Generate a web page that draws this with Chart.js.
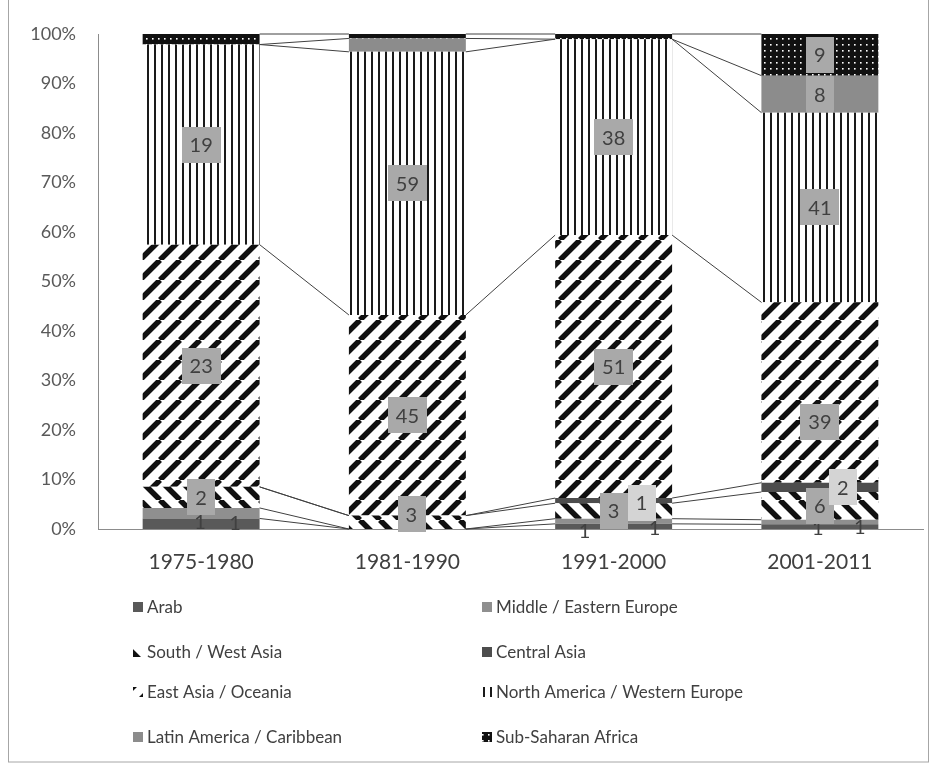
<!DOCTYPE html>
<html lang="en">
<head>
<meta charset="UTF-8" />
<title>Regions by period</title>
<style>
  body { margin: 0; background: #fff; }
  #wrap { width: 934px; height: 765px; }
</style>
</head>
<body>
<div id="wrap"><canvas id="chart" width="934" height="765"></canvas></div>
<script src="https://cdn.jsdelivr.net/npm/chart.js"></script>
<script>
const periods = ['1975-1980', '1981-1990', '1991-2000', '2001-2011'];
const regionNames = ['Arab', 'Middle / Eastern Europe', 'South / West Asia', 'Central Asia',
  'East Asia / Oceania', 'North America / Western Europe', 'Latin America / Caribbean', 'Sub-Saharan Africa'];

// counts per period
const arab = [1, 0, 1, 1];
const middleEastEurope = [1, 0, 1, 1];
const southWestAsia = [2, 3, 3, 6];
const centralAsia = [0, 0, 1, 2];
const eastAsiaOceania = [23, 45, 51, 39];
const northAmericaWestEurope = [19, 59, 38, 41];
const latinAmerica = [0, 3, 0, 8];
const subSaharanAfrica = [1, 1, 1, 9];

const yTicks = [0, 10, 20, 30, 40, 50, 60, 70, 80, 90, 100];

const counts = [arab, middleEastEurope, southWestAsia, centralAsia,
  eastAsiaOceania, northAmericaWestEurope, latinAmerica, subSaharanAfrica];
const totals = periods.map((_, j) => counts.reduce((s, arr) => s + arr[j], 0));

const FONT = 'Lato, "Liberation Sans", sans-serif';
const canvas = document.getElementById('chart');
const ctx = canvas.getContext('2d');

function pattern(w, h, draw) {
  const c = document.createElement('canvas');
  c.width = w; c.height = h;
  const g = c.getContext('2d');
  draw(g, w, h);
  return ctx.createPattern(c, 'repeat');
}

function diagonal(up) {
  return pattern(20, 20, (g, s) => {
    g.fillStyle = '#fff';
    g.fillRect(0, 0, s, s);
    g.strokeStyle = '#111';
    g.lineWidth = 5.5;
    g.beginPath();
    for (let k = -1; k <= 1; k++) {
      if (up) { g.moveTo(k * s, s); g.lineTo(k * s + s, 0); }
      else { g.moveTo(k * s, 0); g.lineTo(k * s + s, s); }
    }
    g.stroke();
  });
}

const fills = [
  '#595959',
  '#8f8f8f',
  diagonal(false),
  '#4d4d4d',
  diagonal(true),
  pattern(7, 7, (g) => {
    g.fillStyle = '#fff'; g.fillRect(0, 0, 7, 7);
    g.fillStyle = '#1a1a1a'; g.fillRect(0, 0, 2, 7);
  }),
  '#8c8c8c',
  pattern(6, 6, (g) => {
    g.fillStyle = '#111'; g.fillRect(0, 0, 6, 6);
    g.fillStyle = '#fff'; g.fillRect(2, 2, 1.6, 1.6);
  })
];

// label look per dataset: plain text, light box or dark box
const labelStyle = ['plain', 'plain', 'dark', 'light', 'dark', 'dark', 'dark', 'dark'];
const hiddenLabels = ['7-0', '6-1', '7-1', '7-2'];
const labelShift = {
  '0-0': [-1, -2], '1-0': [34, 9],
  '2-1': [4, -8],
  '0-2': [-29, 4], '1-2': [41, 6], '3-2': [28, 2],
  '0-3': [-2, 1], '1-3': [40, 4], '3-3': [23, 0], '4-3': [0, 29]
};

const seriesLines = {
  id: 'seriesLines',
  afterDatasetsDraw(chart) {
    const c = chart.ctx;
    c.save();
    c.strokeStyle = '#404040';
    c.lineWidth = 1;
    chart.data.datasets.forEach((ds, d) => {
      const els = chart.getDatasetMeta(d).data;
      for (let j = 0; j < els.length - 1; j++) {
        const a = els[j], b = els[j + 1];
        c.beginPath();
        c.moveTo(a.x + a.width / 2, a.y);
        c.lineTo(b.x - b.width / 2, b.y);
        c.stroke();
      }
    });
    c.restore();
  }
};

const segmentLabels = {
  id: 'segmentLabels',
  afterDatasetsDraw(chart) {
    const c = chart.ctx;
    c.save();
    c.font = '20px ' + FONT;
    c.textAlign = 'center';
    c.textBaseline = 'middle';
    chart.data.datasets.forEach((ds, d) => {
      chart.getDatasetMeta(d).data.forEach((el, j) => {
        const n = counts[d][j];
        const key = d + '-' + j;
        if (!n || hiddenLabels.includes(key)) return;
        const sh = labelShift[key] || [0, 0];
        const x = el.x + sh[0];
        const y = (el.y + el.base) / 2 + sh[1];
        const txt = String(n);
        const w = c.measureText(txt).width + 16;
        const h = 36;
        if (labelStyle[d] !== 'plain') {
          c.fillStyle = labelStyle[d] === 'light' ? '#d4d4d4' : '#a9a9a9';
          c.fillRect(Math.round(x - w / 2), Math.round(y - h / 2), Math.round(w), h);
        }
        c.fillStyle = '#404040';
        c.fillText(txt, x, y + 1);
      });
    });
    c.restore();
  }
};

const legendRows = [607, 652, 692, 737];
const legendCols = [133, 482];
const sideLegend = {
  id: 'sideLegend',
  afterDraw(chart) {
    const c = chart.ctx;
    c.save();
    c.font = '17px ' + FONT;
    c.textBaseline = 'middle';
    c.textAlign = 'left';
    regionNames.forEach((name, i) => {
      const x = legendCols[i % 2];
      const y = legendRows[Math.floor(i / 2)];
      c.fillStyle = fills[i];
      c.fillRect(x, y - 5, 10, 10);
      c.fillStyle = '#404040';
      c.fillText(name, x + 14, y + 1);
    });
    // chart frame
    c.strokeStyle = '#a6a6a6';
    c.lineWidth = 1;
    c.strokeRect(8.5, -2, 920, 764);
    c.restore();
  }
};

new Chart(ctx, {
  type: 'bar',
  data: {
    labels: periods,
    datasets: counts.map((arr, d) => ({
      label: regionNames[d],
      data: arr.map((n, j) => n / totals[j] * 100),
      backgroundColor: fills[d],
      borderWidth: 0,
      barPercentage: 0.567,
      categoryPercentage: 1
    }))
  },
  options: {
    responsive: false,
    animation: false,
    layout: { padding: { top: 34, right: 11, left: 0, bottom: 176 } },
    plugins: { legend: { display: false }, tooltip: { enabled: false } },
    scales: {
      x: {
        stacked: true,
        grid: { display: false, drawTicks: false },
        border: { color: '#8c8c8c' },
        ticks: { color: '#404040', font: { family: FONT, size: 21 }, padding: 21 },
        afterFit(s) { s.height = 60; }
      },
      y: {
        stacked: true,
        min: 0,
        max: 100,
        afterBuildTicks(s) { s.ticks = yTicks.map(v => ({ value: v })); },
        grid: { display: false, drawTicks: false },
        border: { color: '#8c8c8c' },
        ticks: { color: '#595959', font: { family: FONT, size: 18 }, padding: 22,
          callback: v => v + '%' },
        afterFit(s) { s.width = 98; }
      }
    }
  },
  plugins: [seriesLines, segmentLabels, sideLegend]
});
</script>
</body>
</html>
